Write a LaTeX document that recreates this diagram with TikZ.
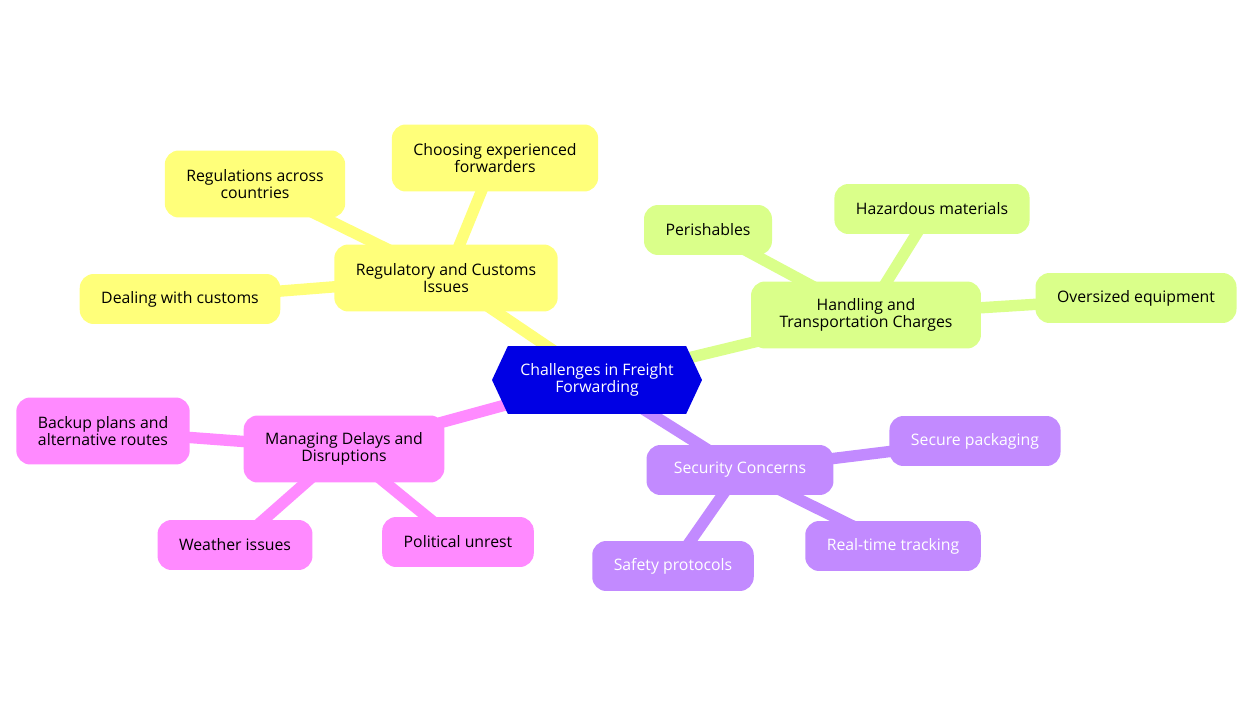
\documentclass[tikz,border=0pt]{standalone}
\usepackage{fontspec}
\setmainfont{Open Sans}
\usetikzlibrary{shapes.symbols}
\usetikzlibrary{backgrounds}

\definecolor{hubblue}{RGB}{0,0,228}
\definecolor{regyellow}{RGB}{255,255,122}
\definecolor{handgreen}{RGB}{218,255,138}
\definecolor{delaypink}{RGB}{255,138,255}
\definecolor{secpurple}{RGB}{194,138,255}

\tikzset{
  topic/.style={rounded corners=0.28cm, inner xsep=0.43cm, inner ysep=0pt,
    minimum height=1cm, align=center, font=\fontsize{9}{10}\selectfont},
  twoline/.style={minimum height=1.34cm},
  branch/.style={line width=6.5pt}
}

\begin{document}
\begin{tikzpicture}[x=0.02cm, y=-0.02cm]
     \useasboundingbox (0,0) rectangle (1254,716);
     % hub
     \node[shape=signal, signal to=west and east, signal pointer angle=130,
       fill=hubblue, text=white, inner xsep=0.1cm, minimum width=4.2cm, minimum height=1.36cm,
       align=center, font=\fontsize{9}{10}\selectfont] (hub) at (597,380) {Challenges in Freight\\Forwarding};
     % regulatory
     \node[topic, twoline, fill=regyellow] (reg) at (446,278) {Regulatory and Customs\\Issues};
     \node[topic, twoline, fill=regyellow] (choose) at (495,158) {Choosing experienced\\forwarders};
     \node[topic, twoline, fill=regyellow] (rules) at (255,184) {Regulations across\\countries};
     \node[topic, fill=regyellow] (customs) at (180,299) {Dealing with customs};
     % handling
     \node[topic, twoline, fill=handgreen, minimum width=4.6cm] (hand) at (866,315) {Handling and\\Transportation Charges};
     \node[topic, fill=handgreen] (perish) at (708,230) {Perishables};
     \node[topic, fill=handgreen] (hazard) at (932,209) {Hazardous materials};
     \node[topic, fill=handgreen] (oversize) at (1136,298) {Oversized equipment};
     % delays
     \node[topic, twoline, fill=delaypink] (delay) at (344,449) {Managing Delays and\\Disruptions};
     \node[topic, twoline, fill=delaypink] (backup) at (103,431) {Backup plans and\\alternative routes};
     \node[topic, fill=delaypink] (weather) at (235,545) {Weather issues};
     \node[topic, fill=delaypink] (unrest) at (458,542) {Political unrest};
     % security
     \node[topic, fill=secpurple, text=white, minimum width=3.74cm] (sec) at (740,470) {Security Concerns};
     \node[topic, fill=secpurple, text=white] (pack) at (975,441) {Secure packaging};
     \node[topic, fill=secpurple, text=white] (track) at (893,546) {Real-time tracking};
     \node[topic, fill=secpurple, text=white] (safety) at (673,566) {Safety protocols};

     \begin{pgfonlayer}{background}
     \draw[branch, regyellow] (hub.center) -- (reg.center);
     \draw[branch, regyellow] (reg.center) -- (choose.center);
     \draw[branch, regyellow] (reg.center) -- (rules.center);
     \draw[branch, regyellow] (reg.center) -- (customs.center);
     \draw[branch, handgreen] (hub.center) -- (hand.center);
     \draw[branch, handgreen] (hand.center) -- (perish.center);
     \draw[branch, handgreen] (hand.center) -- (hazard.center);
     \draw[branch, handgreen] (hand.center) -- (oversize.center);
     \draw[branch, delaypink] (hub.center) -- (delay.center);
     \draw[branch, delaypink] (delay.center) -- (backup.center);
     \draw[branch, delaypink] (delay.center) -- (weather.center);
     \draw[branch, delaypink] (delay.center) -- (unrest.center);
     \draw[branch, secpurple] (hub.center) -- (sec.center);
     \draw[branch, secpurple] (sec.center) -- (pack.center);
     \draw[branch, secpurple] (sec.center) -- (track.center);
     \draw[branch, secpurple] (sec.center) -- (safety.center);
     \end{pgfonlayer}
\end{tikzpicture}
\end{document}
